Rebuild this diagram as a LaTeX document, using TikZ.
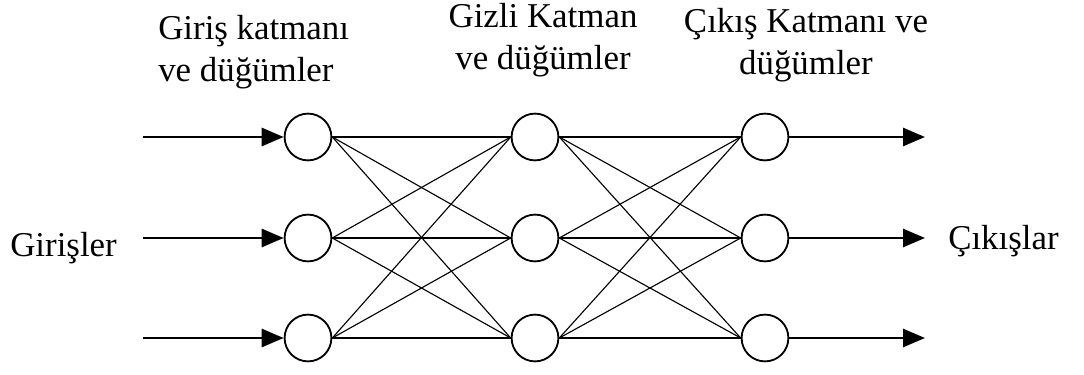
\documentclass[tikz,border=0pt]{standalone}
\usepackage{fontspec}
\setmainfont{Liberation Serif}
\usetikzlibrary{arrows.meta}
\tikzset{
  neuron/.style={circle, draw, line width=1.3pt, minimum size=1.17cm},
  link/.style={line width=0.8pt},
  signal/.style={-{Triangle[length=5.5mm, width=4.5mm]}, line width=2pt},
  every node/.append style={font=\fontsize{24.8}{30}\selectfont, inner sep=0pt}
}
\begin{document}
\begin{tikzpicture}
\useasboundingbox (0,0) rectangle (27.1,9.35);
\foreach \i/\y in {1/5.925, 2/3.4, 3/0.9} {
  \node[neuron] (in\i) at (7.7,\y) {};
  \node[neuron] (hid\i) at (13.375,\y) {};
  \node[neuron] (out\i) at (19.125,\y) {};
  \coordinate (src\i) at (3.575,\y);
  \coordinate (dst\i) at (23.125,\y);
  \draw[signal] (src\i) -- (in\i.west);
  \draw[signal] (out\i.east) -- (dst\i);
}
\foreach \i in {1,2,3} {
  \foreach \j in {1,2,3} {
    \draw[link] (in\i.east) -- (hid\j.west);
    \draw[link] (hid\i.east) -- (out\j.west);
  }
}
% base anchor sits on the last line
\node[anchor=base west, align=left] (lblin) at (3.95,7.3) {Giriş katmanı\\ve düğümler};
\node[anchor=base, align=center] (lblhid) at (13.575,7.6) {Gizli Katman\\ve düğümler};
\node[anchor=base, align=center] (lblout) at (20.15,7.475) {Çıkış Katmanı ve\\düğümler};
\node[anchor=base west] (inputs) at (0.25,2.925) {Girişler};
\node[anchor=base west] (outputs) at (23.7,3.1) {Çıkışlar};
\end{tikzpicture}
\end{document}
